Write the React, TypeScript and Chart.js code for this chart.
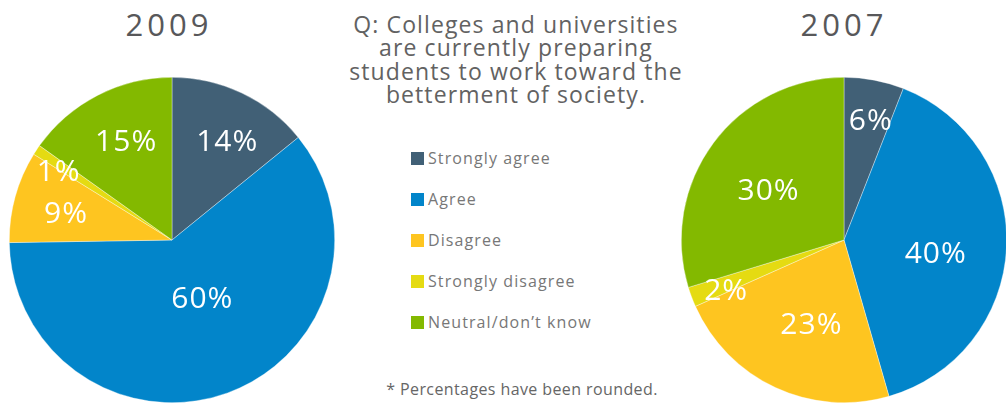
import React, { useEffect, useRef } from "react";
import { Chart, registerables } from "chart.js";

Chart.register(...registerables);

const categories = ["Strongly agree", "Agree", "Disagree", "Strongly disagree", "Neutral/don\u2019t know"];
const values2009 = [14, 60, 9, 1, 15];
const values2007 = [6, 40, 23, 2, 30];
const sliceColors = ["#416076", "#0285CA", "#FEC520", "#E5DB12", "#83B900"];
const question = [
  "Q: Colleges and universities",
  "are currently preparing",
  "students to work toward the",
  "betterment of society.",
];
const footnote = "* Percentages have been rounded.";

// label placement (fraction of radius, angle shift in degrees) per slice
const labelRadius2009 = [0.69, 0.41, 0.67, 0.81, 0.66];
const labelShift2009 = [4, -7, -2, -3, 2];
const labelRadius2007 = [0.75, 0.57, 0.56, 0.79, 0.55];
const labelShift2007 = [2, 6, -4, -3, -4];

const FONT = "'Open Sans', 'DejaVu Sans', sans-serif";

const sliceLabelPlugin = {
  id: "sliceLabels",
  afterDatasetsDraw(chart: any, _args: any, opts: any) {
    const ctx = chart.ctx;
    const meta = chart.getDatasetMeta(0);
    const data = chart.data.datasets[0].data as number[];
    ctx.save();
    ctx.fillStyle = "#ffffff";
    ctx.font = `500 30px ${FONT}`;
    ctx.textAlign = "center";
    ctx.textBaseline = "middle";
    try {
      (ctx as any).letterSpacing = "1px";
    } catch (e) {}
    meta.data.forEach((arc: any, i: number) => {
      const p = arc.getProps(["x", "y", "startAngle", "endAngle", "outerRadius"], true);
      const mid = (p.startAngle + p.endAngle) / 2 + ((opts.shift?.[i] ?? 0) * Math.PI) / 180;
      const r = p.outerRadius * (opts.radius?.[i] ?? 0.65);
      ctx.fillText(`${data[i]}%`, p.x + Math.cos(mid) * r, p.y + Math.sin(mid) * r);
    });
    ctx.restore();
  },
};

function PieChart({ values, radius, shift, left }: { values: number[]; radius: number[]; shift: number[]; left: number }) {
  const ref = useRef<HTMLCanvasElement>(null);
  useEffect(() => {
    if (!ref.current) return;
    const chart = new Chart(ref.current, {
      type: "pie",
      data: {
        labels: categories,
        datasets: [
          {
            data: values,
            backgroundColor: sliceColors,
            borderColor: "rgba(255,255,255,0.6)",
            borderWidth: 0.6,
          },
        ],
      },
      options: {
        animation: false,
        responsive: false,
        maintainAspectRatio: false,
        layout: { padding: 0 },
        plugins: {
          legend: { display: false },
          tooltip: { enabled: false },
          sliceLabels: { radius, shift },
        } as any,
      },
      plugins: [sliceLabelPlugin],
    });
    return () => chart.destroy();
  }, []);
  return (
    <canvas
      ref={ref}
      width={326}
      height={326}
      style={{ position: "absolute", left, top: 77, width: 326, height: 326 }}
    />
  );
}

export default function App() {
  const titleStyle: React.CSSProperties = {
    position: "absolute",
    top: 4,
    width: 200,
    textAlign: "center",
    fontFamily: FONT,
    fontSize: 31,
    fontWeight: 500,
    letterSpacing: 4,
    color: "#58585A",
    lineHeight: "40px",
  };
  return (
    <div
      style={{
        position: "absolute",
        left: 0,
        top: 0,
        width: 1006,
        height: 403,
        overflow: "hidden",
        background: "#ffffff",
        fontFamily: FONT,
      }}
    >
      <div style={{ ...titleStyle, left: 69 }}>2009</div>
      <div style={{ ...titleStyle, left: 744 }}>2007</div>
      <div
        style={{
          position: "absolute",
          left: 316,
          top: 13,
          width: 400,
          textAlign: "center",
          fontSize: 23,
          letterSpacing: 1.1,
          lineHeight: "23.3px",
          color: "#626262",
          whiteSpace: "nowrap",
        }}
      >
        {question.map((q, i) => (
          <div key={i}>{q}</div>
        ))}
      </div>
      {categories.map((c, i) => (
        <div
          key={c}
          style={{
            position: "absolute",
            left: 411,
            top: 148 + i * 41,
            height: 20,
            display: "flex",
            alignItems: "center",
            whiteSpace: "nowrap",
          }}
        >
          <div style={{ width: 13, height: 13, background: sliceColors[i], marginRight: 4 }} />
          <span style={{ fontSize: 16, letterSpacing: 1.1, color: "#777777" }}>{c}</span>
        </div>
      ))}
      <div
        style={{
          position: "absolute",
          left: 372,
          top: 378,
          width: 300,
          textAlign: "center",
          fontSize: 16,
          letterSpacing: 0.4,
          color: "#666666",
          whiteSpace: "nowrap",
        }}
      >
        {footnote}
      </div>
      <PieChart values={values2009} radius={labelRadius2009} shift={labelShift2009} left={9} />
      <PieChart values={values2007} radius={labelRadius2007} shift={labelShift2007} left={681} />
    </div>
  );
}
